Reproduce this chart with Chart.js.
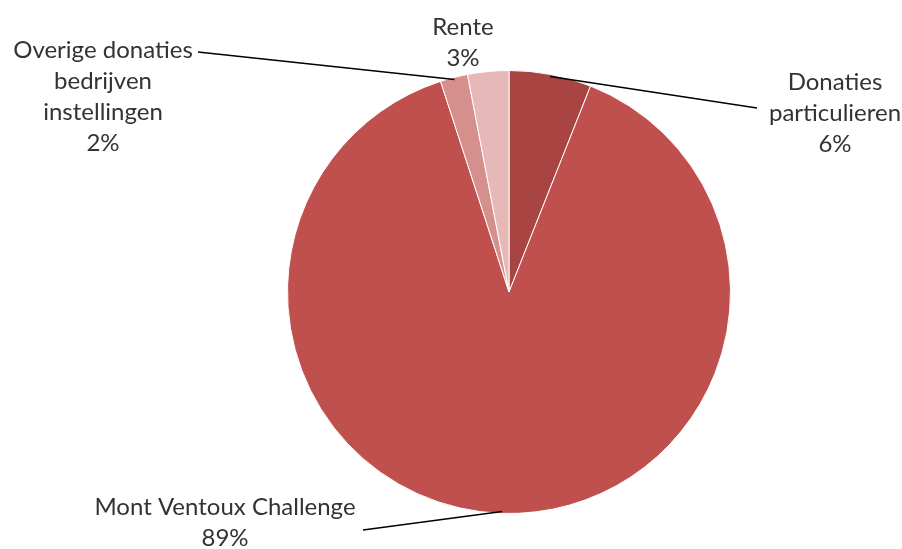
<!DOCTYPE html>
<html>
<head>
<meta charset="utf-8">
<script src="https://cdn.jsdelivr.net/npm/chart.js@4"></script>
<style>
  body { margin: 0; background: #fff; }
  canvas { display: block; }
</style>
</head>
<body>
<canvas id="myChart" width="902" height="549"></canvas>
<script>
const categories = ['Donaties particulieren', 'Mont Ventoux Challenge', 'Overige donaties bedrijven instellingen', 'Rente'];
const shares = [6, 89, 2, 3];
const labelLines = [['Donaties', 'particulieren'], ['Mont Ventoux Challenge'], ['Overige donaties', 'bedrijven', 'instellingen'], ['Rente']];
const sliceColors = ['#A84441', '#C0504D', '#D58F8D', '#E6B9B8'];

// where each label sits (centre of first line) and where its leader line ends
const labelLayout = [
    {x: 835, y: 82, lineTo: [757, 108]},
    {x: 225, y: 507, lineTo: [363, 530]},
    {x: 103, y: 50, lineTo: [198, 52]},
    {x: 463, y: 27, lineTo: null}
];

const lineHeight = 31;

const labelPlugin = {
    id: 'pieLabels',
    afterDraw(chart) {
        const ctx = chart.ctx;
        const arcs = chart.getDatasetMeta(0).data;
        ctx.save();
        arcs.forEach((arc, i) => {
            const p = labelLayout[i];
            if (p.lineTo) {
                const mid = (arc.startAngle + arc.endAngle) / 2;
                const sx = arc.x + Math.cos(mid) * (arc.outerRadius - 2);
                const sy = arc.y + Math.sin(mid) * (arc.outerRadius - 2);
                ctx.beginPath();
                ctx.moveTo(sx, sy);
                ctx.lineTo(p.lineTo[0], p.lineTo[1]);
                ctx.strokeStyle = '#000';
                ctx.lineWidth = 1.5;
                ctx.stroke();
            }
            const lines = labelLines[i].concat([shares[i] + '%']);
            ctx.fillStyle = '#333333';
            ctx.font = '24px Lato';
            ctx.textAlign = 'center';
            ctx.textBaseline = 'middle';
            lines.forEach((t, k) => ctx.fillText(t, p.x, p.y + k * lineHeight));
        });
        ctx.restore();
    }
};

const ctx = document.getElementById('myChart').getContext('2d');

const myPieChart = new Chart(ctx, {
    type: 'pie',
    data: {
        labels: categories,
        datasets: [{
            data: shares,
            backgroundColor: sliceColors,
            borderColor: '#ffffff',
            borderWidth: 1
        }]
    },
    options: {
        responsive: false,
        maintainAspectRatio: false,
        animation: false,
        layout: {
            padding: {left: 287, right: 171, top: 70, bottom: 35}
        },
        plugins: {
            legend: {display: false},
            tooltip: {enabled: false}
        }
    },
    plugins: [labelPlugin]
});
</script>
</body>
</html>
